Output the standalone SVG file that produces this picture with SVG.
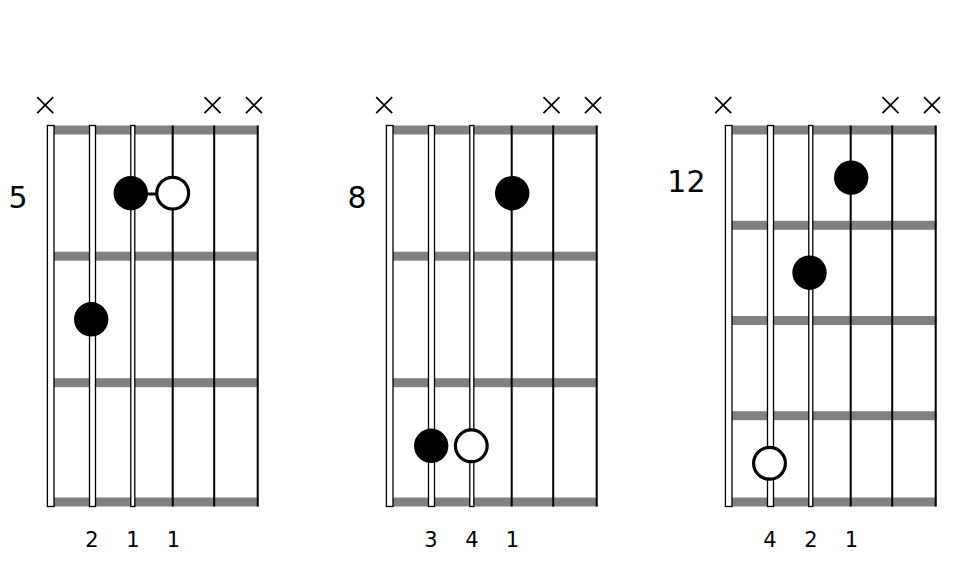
<svg xmlns="http://www.w3.org/2000/svg" width="960" height="567" viewBox="0 0 960 567">
  <style>
    .bar { fill: #808080; }
    .thick { fill: #ffffff; stroke: #000000; stroke-width: 1.3; }
    .thin { stroke: #000000; stroke-width: 2; fill: none; }
    .mute { stroke: #000000; stroke-width: 1.7; fill: none; }
    .dot { fill: #000000; }
    .open { fill: #ffffff; stroke: #000000; stroke-width: 3.2; }
    .link { stroke: #000000; stroke-width: 3; }
    .fret { font-family: "DejaVu Sans", Verdana, sans-serif; font-size: 30px; fill: #000000; text-anchor: end; }
    .finger { font-family: "DejaVu Sans", Verdana, sans-serif; font-size: 21px; fill: #000000; text-anchor: middle; }
  </style>
  <defs>
    <g id="strings">
      <rect class="thick" x="47.4" y="125.5" width="6.6" height="381"/>
      <rect class="thick" x="89.5" y="125.5" width="6" height="381"/>
      <rect class="thick" x="130.8" y="125.5" width="4" height="381"/>
      <line class="thin" x1="172.7" y1="125.5" x2="172.7" y2="506.5"/>
      <line class="thin" x1="214.2" y1="125.5" x2="214.2" y2="506.5"/>
      <line class="thin" x1="257.7" y1="125.5" x2="257.7" y2="506.5"/>
    </g>
    <g id="mutes">
      <path class="mute" d="M37.2,97.2 L53.2,113.2 M53.2,97.2 L37.2,113.2"/>
      <path class="mute" d="M204.5,97.2 L220.5,113.2 M220.5,97.2 L204.5,113.2"/>
      <path class="mute" d="M246,97.2 L262,113.2 M262,97.2 L246,113.2"/>
    </g>
  </defs>

  <g id="chord-1">
    <g id="chord-1-frets">
      <rect class="bar" x="50" y="125.5" width="208.5" height="9"/>
      <rect class="bar" x="50" y="251.7" width="208.5" height="9"/>
      <rect class="bar" x="50" y="378.2" width="208.5" height="9"/>
      <rect class="bar" x="50" y="497.5" width="208.5" height="9"/>
    </g>
    <use href="#strings"/>
    <use href="#mutes"/>
    <text class="fret" x="27.5" y="207.5">5</text>
    <g id="chord-1-connectors">
      <line class="link" x1="131" y1="194" x2="172.7" y2="194"/>
    </g>
    <circle id="c1-dot1" class="dot" cx="130.8" cy="193.2" r="17.2"/>
    <circle id="c1-dot2" class="open" cx="172.7" cy="193.2" r="15.9"/>
    <circle id="c1-dot3" class="dot" cx="91.2" cy="319.3" r="17.2"/>
    <text class="finger" x="92" y="547">2</text>
    <text class="finger" x="133" y="547">1</text>
    <text class="finger" x="173.5" y="547">1</text>
  </g>

  <g id="chord-2" transform="translate(339,0)">
    <g id="chord-2-frets">
      <rect class="bar" x="50" y="125.5" width="208.5" height="9"/>
      <rect class="bar" x="50" y="251.7" width="208.5" height="9"/>
      <rect class="bar" x="50" y="378.2" width="208.5" height="9"/>
      <rect class="bar" x="50" y="497.5" width="208.5" height="9"/>
    </g>
    <use href="#strings"/>
    <use href="#mutes"/>
    <text class="fret" x="27.5" y="207.5">8</text>
    <circle id="c2-dot1" class="dot" cx="173.2" cy="193.2" r="17.2"/>
    <circle id="c2-dot2" class="dot" cx="92.2" cy="445.8" r="17.2"/>
    <circle id="c2-dot3" class="open" cx="132.3" cy="445.8" r="15.9"/>
    <text class="finger" x="92" y="547">3</text>
    <text class="finger" x="133" y="547">4</text>
    <text class="finger" x="173.5" y="547">1</text>
  </g>

  <g id="chord-3" transform="translate(678,0)">
    <g id="chord-3-frets">
      <rect class="bar" x="50" y="125.5" width="208.5" height="9"/>
      <rect class="bar" x="50" y="220.8" width="208.5" height="9"/>
      <rect class="bar" x="50" y="316" width="208.5" height="9"/>
      <rect class="bar" x="50" y="411.2" width="208.5" height="9"/>
      <rect class="bar" x="50" y="497.5" width="208.5" height="9"/>
    </g>
    <use href="#strings"/>
    <use href="#mutes"/>
    <text class="fret" x="27.5" y="191.8">12</text>
    <circle id="c3-dot1" class="dot" cx="173.2" cy="177.6" r="17.2"/>
    <circle id="c3-dot2" class="dot" cx="131.5" cy="272.7" r="17.2"/>
    <circle id="c3-dot3" class="open" cx="91.5" cy="463.3" r="15.9"/>
    <text class="finger" x="92" y="547">4</text>
    <text class="finger" x="133" y="547">2</text>
    <text class="finger" x="173.5" y="547">1</text>
  </g>
</svg>
